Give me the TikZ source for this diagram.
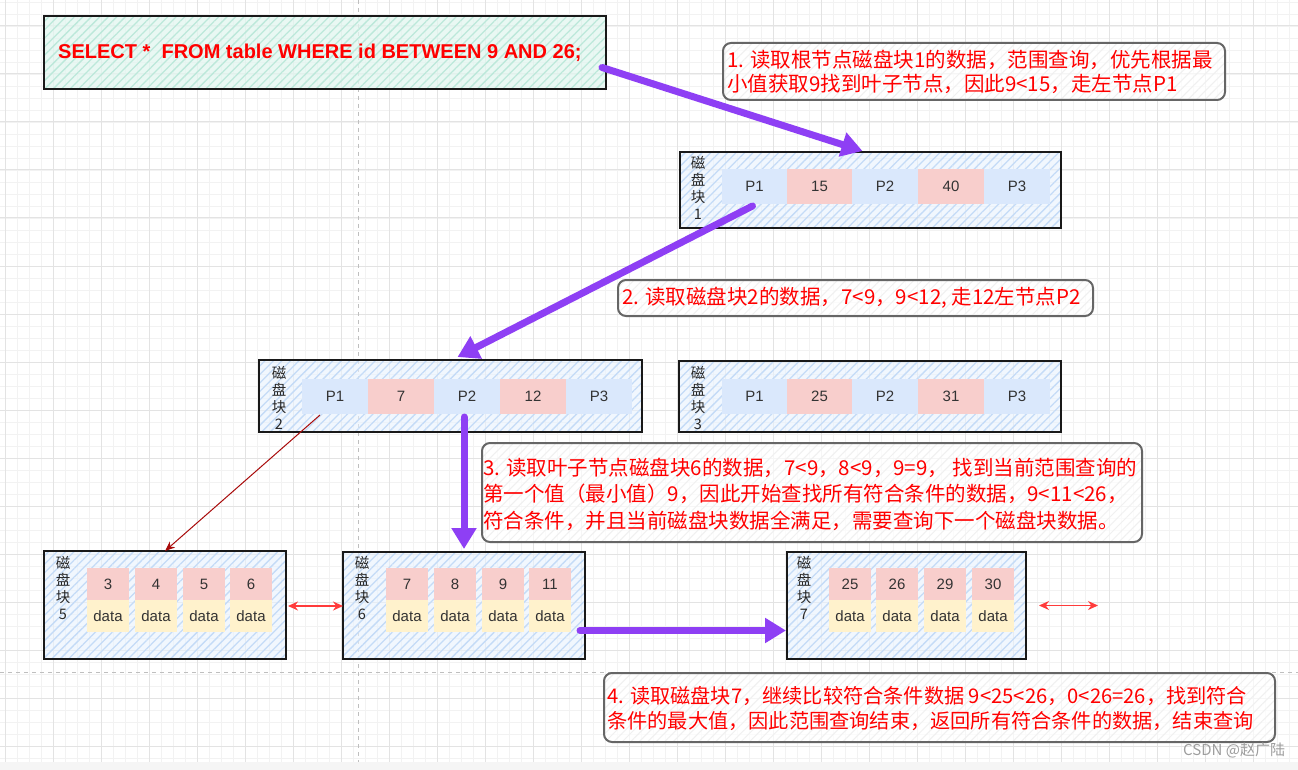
\documentclass[tikz,border=0pt]{standalone}
\usepackage{fontspec}
\setmainfont{Liberation Sans}
\newfontfamily\cjk{Noto Sans CJK SC}
\usetikzlibrary{arrows.meta,patterns.meta,calc}
\definecolor{pblue}{HTML}{DAE8FC}
\definecolor{pred}{HTML}{F8CECC}
\definecolor{pyel}{HTML}{FFF2CC}
\definecolor{hatchblue}{HTML}{C4DBF7}
\definecolor{tintblue}{HTML}{E8F2FE}
\definecolor{mint}{HTML}{E2F6F0}
\definecolor{hatchmint}{HTML}{BCE8DA}
\definecolor{purp}{HTML}{8E3FF4}
\definecolor{txtred}{HTML}{FF0000}
\definecolor{darkred}{HTML}{A80A0A}
\definecolor{arrred}{HTML}{FF3B3B}
\definecolor{gminorc}{HTML}{F2F2F2}
\definecolor{gmajorc}{HTML}{E3E3E3}
\definecolor{celltxt}{HTML}{333333}
\begin{document}
\begin{tikzpicture}[x=1pt,y=-1pt,
  gminor/.style={draw=gminorc,line width=0.6pt},
  gmajor/.style={draw=gmajorc,line width=1pt},
  pageline/.style={draw=black!25,line width=1pt,dash pattern=on 4pt off 4pt},
  blockbox/.style={draw=black!90,line width=2pt,inner sep=0pt,outer sep=0pt,
    preaction={fill=tintblue,fill opacity=0.6},
    pattern={Lines[angle=45,distance=6pt,line width=1.3pt]},pattern color=hatchblue},
  sqlbox/.style={draw=black!90,line width=2pt,inner sep=0pt,outer sep=0pt,
    preaction={fill=mint,fill opacity=0.75},
    pattern={Lines[angle=45,distance=6pt,line width=1.3pt]},pattern color=hatchmint},
  notebox/.style={draw=black!60,line width=2pt,rounded corners=8pt,inner sep=0pt,outer sep=0pt,
    preaction={fill=white,fill opacity=0.7,rounded corners=8pt},
    pattern={Lines[angle=45,distance=6pt,line width=1pt]},pattern color=black!6},
  notetext/.style={font=\cjk\fontsize{20.5}{25}\selectfont,text=txtred,align=left,anchor=west,inner sep=0pt},
  pcell/.style={fill=pblue,minimum width=65.5pt,minimum height=35pt,inner sep=0pt,outer sep=0pt,
    font=\fontsize{15}{16}\selectfont,text=celltxt},
  kcell/.style={pcell,fill=pred},
  lkey/.style={fill=pred,minimum width=42pt,minimum height=32pt,inner sep=0pt,outer sep=0pt,
    font=\fontsize{15}{16}\selectfont,text=celltxt},
  ldata/.style={lkey,fill=pyel},
  blabel/.style={font=\cjk\fontsize{14.5}{17}\selectfont,align=center,inner sep=0pt,text=black!85},
  purparrow/.style={draw=purp,line width=7pt,line cap=round,-{Triangle[length=21pt,width=24pt]}},
  thinred/.style={draw=darkred,line width=1pt,-{Stealth[length=10pt,width=8pt]}},
  dblred/.style={draw=arrred,line width=1.5pt,{Stealth[length=10pt,width=9pt]}-{Stealth[length=10pt,width=9pt]}}
]
\useasboundingbox (0,0) rectangle (1298,770);
\fill[white] (0,0) rectangle (1298,770);
% grid
\foreach \i in {0,...,108} \draw[gminor] ({5.7+12*\i},0) -- ({5.7+12*\i},770);
\foreach \i in {0,...,64} \draw[gminor] (0,{2+12*\i}) -- (1298,{2+12*\i});
\foreach \i in {0,...,27} \draw[gmajor] ({5.7+48*\i},0) -- ({5.7+48*\i},770);
\foreach \i in {0,...,15} \draw[gmajor] (0,{26+48*\i}) -- (1298,{26+48*\i});
\draw[pageline] (358,0) -- (358,770);
\draw[pageline] (0,672) -- (1298,672);
\fill[black!4] (0,762) rectangle (1298,770);

% SQL box
\node[sqlbox,minimum width=562pt,minimum height=73pt] (sql) at (325,52.5) {};
\node[anchor=west,inner sep=0pt,text=txtred,font=\bfseries\fontsize{20}{22}\selectfont] (sqlt) at (58,53) {SELECT *\ \ FROM table WHERE id BETWEEN 9 AND 26;};

% Notes
\node[notebox,minimum width=502pt,minimum height=57pt] (n1) at (974,71.5) {};
\node[notetext,font=\cjk\fontsize{20.5}{24}\selectfont] (n1t) at ($(n1.west)+(4,0)$) {1. 读取根节点磁盘块1的数据，范围查询，优先根据最\\小值获取9找到叶子节点，因此9<15，走左节点P1};
\node[notebox,minimum width=475pt,minimum height=36pt] (n2) at (855.5,298) {};
\node[notetext] (n2t) at ($(n2.west)+(4,0)$) {2. 读取磁盘块2的数据，7<9，9<12, 走12左节点P2};
\node[notebox,minimum width=660pt,minimum height=99pt] (n3) at (812,492.5) {};
\node[notetext,font=\cjk\fontsize{20.5}{26.5}\selectfont] (n3t) at ($(n3.west)+(1,1.5)$) {3. 读取叶子节点磁盘块6的数据，7<9，8<9，9=9， 找到当前范围查询的\\第一个值（最小值）9，因此开始查找所有符合条件的数据，9<11<26，\\符合条件，并且当前磁盘块数据全满足，需要查询下一个磁盘块数据。};
\node[notebox,minimum width=671pt,minimum height=69pt] (n4) at (939.5,707.5) {};
\node[notetext,font=\cjk\fontsize{20.2}{25}\selectfont] (n4t) at ($(n4.west)+(3,1)$) {4. 读取磁盘块7，继续比较符合条件数据 9<25<26，0<26=26，找到符合\\条件的最大值，因此范围查询结束，返回所有符合条件的数据，结束查询};

% Block 1
\node[blockbox,minimum width=381pt,minimum height=76pt] (b1) at (870.5,190) {};
\node[blabel] (l1) at (698,188) {磁\\盘\\块\\1};
\node[pcell] (c1a) at (754.5,186.5) {P1};
\node[kcell] (c1b) at (819.5,186.5) {15};
\node[pcell] (c1c) at (885,186.5) {P2};
\node[kcell] (c1d) at (951,186.5) {40};
\node[pcell] (c1e) at (1017,186.5) {P3};

% Block 2
\node[blockbox,minimum width=383pt,minimum height=72pt] (b2) at (450.5,396) {};
\node[blabel] (l2) at (279,398) {磁\\盘\\块\\2};
\node[pcell] (c2a) at (335,396.5) {P1};
\node[kcell] (c2b) at (401,396.5) {7};
\node[pcell] (c2c) at (467,396.5) {P2};
\node[kcell] (c2d) at (533,396.5) {12};
\node[pcell] (c2e) at (599,396.5) {P3};

% Block 3
\node[blockbox,minimum width=382pt,minimum height=71pt] (b3) at (870,396.5) {};
\node[blabel] (l3) at (698,398) {磁\\盘\\块\\3};
\node[pcell] (c3a) at (754.5,396.5) {P1};
\node[kcell] (c3b) at (819.5,396.5) {25};
\node[pcell] (c3c) at (885,396.5) {P2};
\node[kcell] (c3d) at (951,396.5) {31};
\node[pcell] (c3e) at (1017,396.5) {P3};

% Block 5
\node[blockbox,minimum width=242pt,minimum height=108pt] (b5) at (165,605) {};
\node[blabel] (l5) at (63,588) {磁\\盘\\块\\5};
\node[lkey] (k5a) at (108,584) {3};
\node[lkey] (k5b) at (156,584) {4};
\node[lkey] (k5c) at (204,584) {5};
\node[lkey] (k5d) at (251,584) {6};
\node[ldata] (d5a) at (108,616) {data};
\node[ldata] (d5b) at (156,616) {data};
\node[ldata] (d5c) at (204,616) {data};
\node[ldata] (d5d) at (251,616) {data};

% Block 6
\node[blockbox,minimum width=242pt,minimum height=107pt] (b6) at (464,605.5) {};
\node[blabel] (l6) at (362,588) {磁\\盘\\块\\6};
\node[lkey] (k6a) at (407,584) {7};
\node[lkey] (k6b) at (455,584) {8};
\node[lkey] (k6c) at (503,584) {9};
\node[lkey] (k6d) at (550,584) {11};
\node[ldata] (d6a) at (407,616) {data};
\node[ldata] (d6b) at (455,616) {data};
\node[ldata] (d6c) at (503,616) {data};
\node[ldata] (d6d) at (550,616) {data};

% Block 7
\node[blockbox,minimum width=239pt,minimum height=107pt] (b7) at (906.5,605.5) {};
\node[blabel] (l7) at (804,588) {磁\\盘\\块\\7};
\node[lkey] (k7a) at (850,584) {25};
\node[lkey] (k7b) at (897,584) {26};
\node[lkey] (k7c) at (945,584) {29};
\node[lkey] (k7d) at (993,584) {30};
\node[ldata] (d7a) at (850,616) {data};
\node[ldata] (d7b) at (897,616) {data};
\node[ldata] (d7c) at (945,616) {data};
\node[ldata] (d7d) at (993,616) {data};

% connectors
\coordinate (a1s) at ($(sql.east)+(-4,15)$);
\coordinate (a1e) at ($(b1.north)+(-8,-1)$);
\draw[purparrow] (a1s) -- (a1e);
\coordinate (a2s) at ($(c1a.south)+(-2,2)$);
\coordinate (a2e) at ($(b2.north)+(7,-3)$);
\draw[purparrow] (a2s) -- (a2e);
\coordinate (a3s) at ($(c2c.south)+(-3,3)$);
\coordinate (a3e) at ($(b6.north)+(0,-3)$);
\draw[purparrow] (a3s) -- (a3e);
\coordinate (a4s) at ($(b6.east)+(-5,25)$);
\coordinate (a4e) at ($(b7.west)+(-1,25)$);
\draw[purparrow] (a4s) -- (a4e);
\coordinate (r1s) at ($(c2a.south)+(-15,1)$);
\draw[thinred] (r1s) -- (b5.north);
\draw[dblred] ($(b5.east)+(2,1)$) -- ($(b6.west)+(0,0.5)$);
\coordinate (r3s) at ($(b7.east)+(13,0)$);
\coordinate (r3e) at ($(b7.east)+(72,0)$);
\draw[dblred] (r3s) -- (r3e);

% watermark
\node[anchor=west,inner sep=0pt,text=black!38,font=\cjk\fontsize{15}{16}\selectfont] (wm) at (1183,750) {CSDN @赵广陆};
\end{tikzpicture}
\end{document}
